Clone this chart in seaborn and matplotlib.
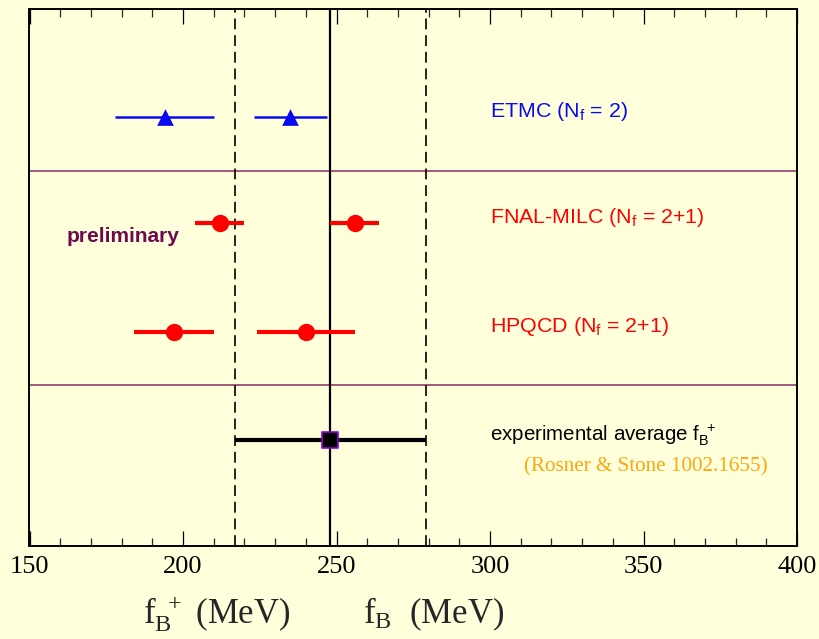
import matplotlib
matplotlib.use("Agg")
import matplotlib.pyplot as plt
import numpy as np
import pandas as pd
import seaborn as sns
from matplotlib.ticker import MultipleLocator

# Lattice results for f_B (MeV): two entries per collaboration
collabs = ["ETMC", "ETMC", "FNAL-MILC", "FNAL-MILC", "HPQCD", "HPQCD"]
fb_values = [194, 235, 212, 256, 197, 240]
fb_errors = [16, 12, 8, 8, 13, 16]

# Vertical row positions of each collaboration
row_names = ["ETMC", "FNAL-MILC", "HPQCD"]
row_pos = [4.29, 3.23, 2.14]
row_labels = [r"ETMC ($\mathregular{N_f}$ = 2)",
              r"FNAL-MILC ($\mathregular{N_f}$ = 2+1)",
              r"HPQCD ($\mathregular{N_f}$ = 2+1)"]

# Experimental average
exp_value = 248
exp_error = 31
exp_row = 1.06

# Panel separators
separators = [3.75, 1.61]

tick_major = [150, 200, 250, 300, 350, 400]

BG = "#FFFFDC"
styles = {
    "ETMC": dict(color="#0A0AF0", marker="^", size=12, lw=1.8),
    "FNAL-MILC": dict(color="#FF0000", marker="o", size=12.5, lw=3.0),
    "HPQCD": dict(color="#FF0000", marker="o", size=12.5, lw=3.0),
}

sns.set_theme(style="ticks")
plt.rcParams.update({
    "figure.facecolor": BG,
    "axes.facecolor": BG,
    "savefig.facecolor": BG,
    "font.family": ["Liberation Sans", "DejaVu Sans"],
})

df = pd.DataFrame({"collab": collabs, "fB": fb_values, "err": fb_errors})
df["row"] = df["collab"].map(dict(zip(row_names, row_pos)))

fig = plt.figure(figsize=(8.19, 6.39), dpi=100)
ax = fig.add_axes([29.5 / 819, 1 - 546 / 639, (797 - 29.5) / 819, (546 - 9) / 639])
ax.set_xlim(150, 400)
ax.set_ylim(0, 5.37)

# Reference lines: central value and its band
ax.axvline(exp_value, color="black", lw=1.6, zorder=2)
for v in (exp_value - exp_error, exp_value + exp_error):
    ax.axvline(v, color="black", lw=1.2, linestyle=(0, (6.5, 3.5)), zorder=2)

for s in separators:
    ax.axhline(s, color="#9B4C78", lw=1.3, zorder=1)

# Horizontal error bars, then markers through seaborn
for name in row_names:
    st = styles[name]
    sub = df[df["collab"] == name]
    ax.errorbar(sub["fB"], sub["row"], xerr=sub["err"], fmt="none",
                ecolor=st["color"], elinewidth=st["lw"], capsize=0, zorder=3)
    sns.scatterplot(data=sub, x="fB", y="row", ax=ax, color=st["color"],
                    marker=st["marker"], s=st["size"] ** 2, edgecolor=st["color"],
                    linewidth=0, zorder=4, legend=False)

ax.errorbar([exp_value], [exp_row], xerr=[exp_error], fmt="none",
            ecolor="black", elinewidth=3.0, capsize=0, zorder=3)
sns.scatterplot(x=[exp_value], y=[exp_row], ax=ax, marker="s", s=11 ** 2,
                color="black", edgecolor="#9900CC", linewidth=1.2, zorder=5,
                legend=False)

# Row annotations
for y, lab, name in zip(row_pos, row_labels, row_names):
    ax.text(300, y, lab, color=styles[name]["color"], fontsize=15.4,
            va="baseline", ha="left", zorder=6)
ax.text(300, exp_row, r"experimental average $\mathregular{f_B^{\ +}}$",
        color="black", fontsize=14.8, va="baseline", ha="left")
ax.text(311, 0.75, "(Rosner & Stone 1002.1655)", color="#FFA510",
        fontsize=15.2, family="Liberation Serif", va="baseline", ha="left")
ax.text(162.2, 3.04, "preliminary", color="#6B0A4E", fontsize=15,
        fontweight="bold", va="baseline", ha="left")

# Axes frame and ticks
ax.set_xticks(tick_major)
ax.xaxis.set_minor_locator(MultipleLocator(10))
ax.set_yticks([])
ax.tick_params(axis="x", which="major", direction="in", length=11, width=0.9,
               top=True, bottom=True, pad=7, labelsize=19, colors="black")
ax.tick_params(axis="x", which="minor", direction="in", length=6, width=0.9,
               top=True, bottom=True)
for lbl in ax.get_xticklabels():
    lbl.set_family("Liberation Serif")
for sp in ax.spines.values():
    sp.set_visible(True)
    sp.set_color("black")
    sp.set_linewidth(1.4)
ax.set_xlabel("")
ax.set_ylabel("")

# Axis title written as two pieces
fig.text(143 / 819, 1 - 623 / 639, r"$\mathregular{f_B^{\ +}}$ (MeV)",
         family="Liberation Serif", fontsize=25, va="baseline", ha="left")
fig.text(363 / 819, 1 - 623 / 639, r"$\mathregular{f_B}$  (MeV)",
         family="Liberation Serif", fontsize=25, va="baseline", ha="left")

fig.savefig("out.png", dpi=100, facecolor=BG)
